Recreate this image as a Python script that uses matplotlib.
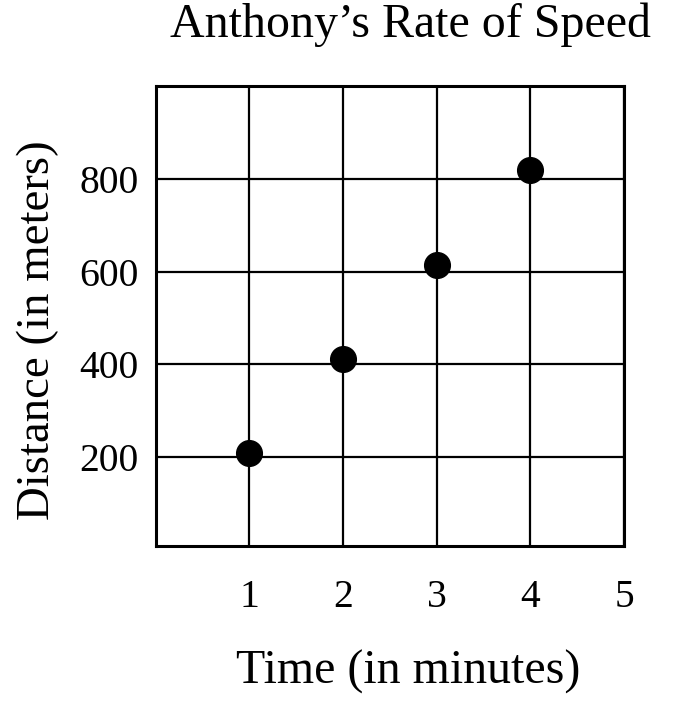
import matplotlib
matplotlib.use("Agg")
import matplotlib.pyplot as plt

minutes = [1, 2, 3, 4]
distance = [210, 412, 615, 818]
x_ticks = [1, 2, 3, 4, 5]
y_ticks = [200, 400, 600, 800]

plt.rcParams["font.family"] = ["Liberation Serif", "DejaVu Serif"]

W, H = 681, 715
fig = plt.figure(figsize=(W / 100, H / 100), dpi=100)
ax = fig.add_axes([155.7 / W, 1 - 545.7 / H, (624 - 155.7) / W, (545.7 - 85.7) / H])

ax.set_xlim(0, 5)
ax.set_ylim(10, 1000)
ax.set_xticks(x_ticks)
ax.set_yticks(y_ticks)
ax.grid(True, color="black", linewidth=1.6)
ax.set_axisbelow(True)
for s in ax.spines.values():
    s.set_linewidth(2.2)
ax.tick_params(length=0, labelsize=28.5)
ax.tick_params(axis="x", pad=24)
ax.tick_params(axis="y", pad=12.5)

ax.plot(minutes, distance, "o", color="black", markersize=18.5, zorder=5, clip_on=False)

fig.text(410 / W, 1 - 25 / H, "Anthony\u2019s Rate of Speed", ha="center", va="center", fontsize=34.5)
fig.text(408 / W, 1 - 672 / H, "Time (in minutes)", ha="center", va="center", fontsize=34.5)
fig.text(38 / W, 1 - 330 / H, "Distance (in meters)", ha="center", va="center", fontsize=33.7, rotation=90)

fig.savefig("out.png", dpi=100)
